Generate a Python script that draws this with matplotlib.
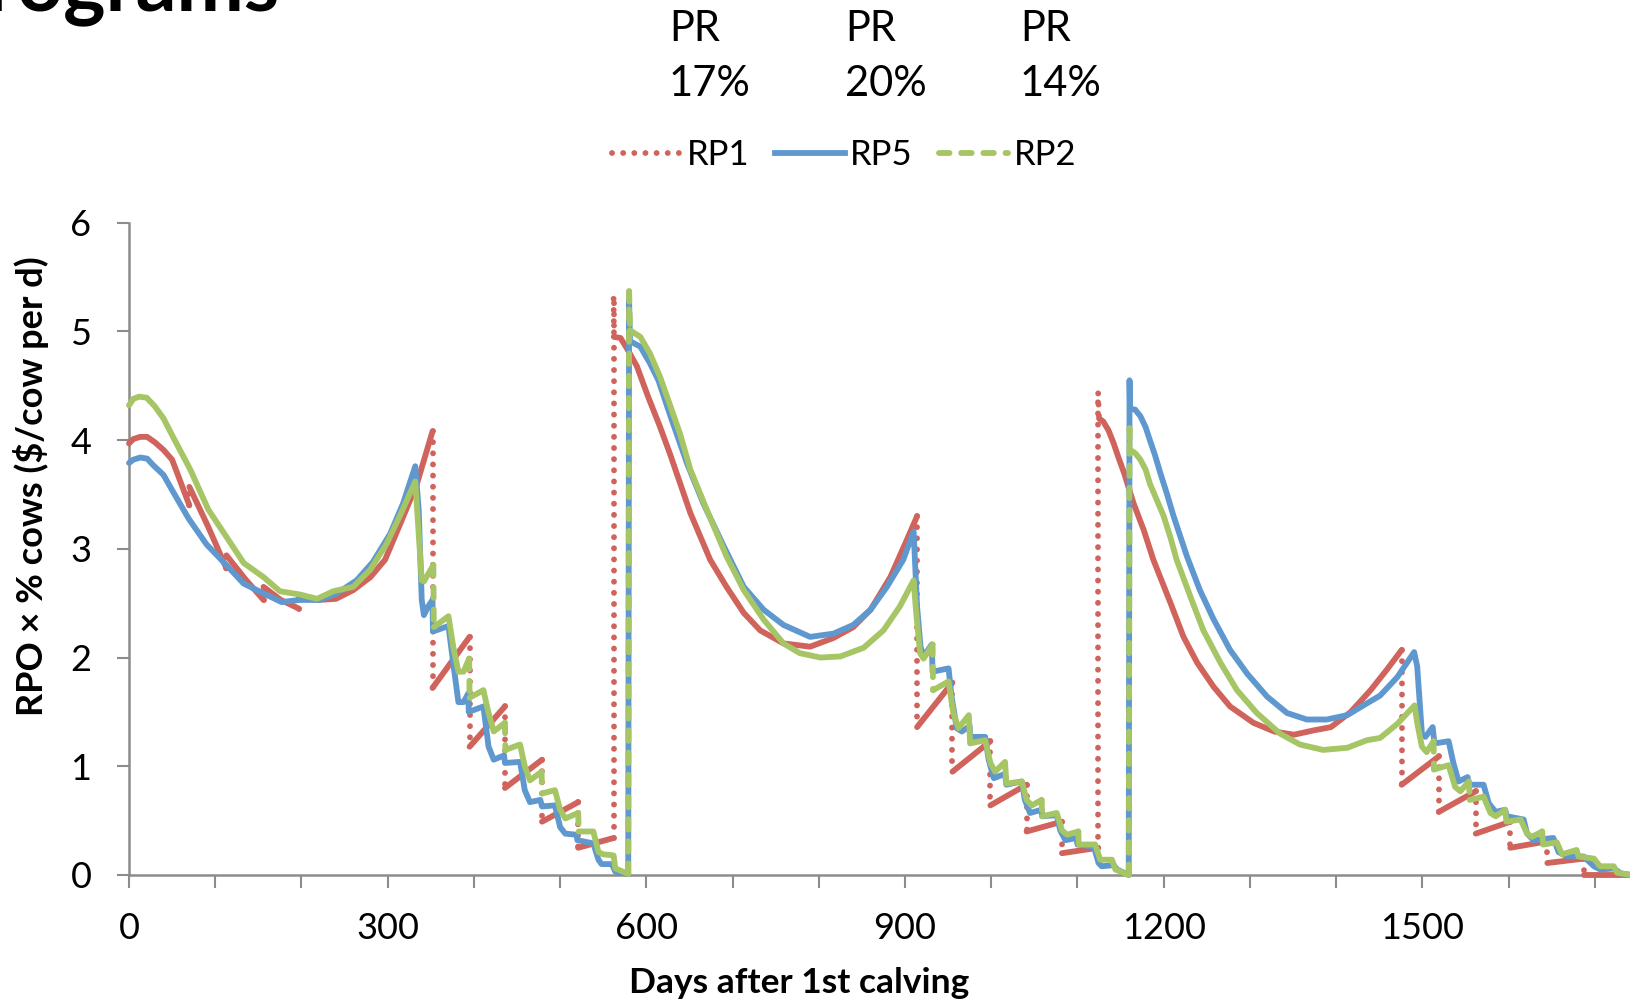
import numpy as np
import matplotlib
matplotlib.use('Agg')
import matplotlib.pyplot as plt
from matplotlib.lines import Line2D

plt.rcParams['font.family'] = ['Lato', 'DejaVu Sans']

# RP1 (red, dotted)
rp1_days = [0, 5, 13, 21, 30, 40, 50, 70, 70, 92, 113, 113, 135, 156, 156, 176, 197, 197, 220,
            240, 260, 280, 297, 314, 334, 352, 352, 395, 395, 436, 436, 479, 479, 521, 521, 562,
            562, 562.5, 570, 577, 589, 602, 616, 628, 651, 674, 693, 713, 732, 759, 790, 817,
            840, 860, 883, 902, 914, 914, 955, 955, 999, 999, 1041, 1041, 1082, 1082, 1124, 1124,
            1125, 1130, 1136, 1142, 1148, 1154, 1165, 1177, 1188, 1196, 1208, 1223, 1239, 1258,
            1277, 1304, 1328, 1351, 1374, 1394, 1417, 1440, 1459, 1476, 1476, 1519, 1519, 1562,
            1562, 1602, 1602, 1645, 1645, 1687, 1687, 1742]
rp1_vals = [3.97, 4.01, 4.03, 4.03, 3.98, 3.91, 3.82, 3.40, 3.57, 3.20, 2.82, 2.94, 2.72, 2.53,
            2.65, 2.53, 2.45, 2.55, 2.53, 2.54, 2.62, 2.74, 2.90, 3.22, 3.60, 4.08, 1.72, 2.19,
            1.18, 1.55, 0.80, 1.06, 0.49, 0.67, 0.25, 0.34, 5.30, 4.95, 4.94, 4.85, 4.68, 4.40,
            4.12, 3.86, 3.33, 2.90, 2.65, 2.41, 2.25, 2.13, 2.10, 2.18, 2.28, 2.44, 2.74, 3.08,
            3.30, 1.36, 1.77, 0.95, 1.23, 0.64, 0.83, 0.40, 0.49, 0.20, 0.25, 4.43, 4.20, 4.17,
            4.09, 3.97, 3.83, 3.70, 3.42, 3.17, 2.90, 2.74, 2.50, 2.19, 1.95, 1.73, 1.55, 1.40,
            1.32, 1.29, 1.33, 1.36, 1.50, 1.70, 1.89, 2.07, 0.83, 1.09, 0.58, 0.77, 0.38, 0.49,
            0.25, 0.31, 0.11, 0.15, 0.0, 0.0]

# RP5 (blue, solid)
rp5_days = [0, 5, 13, 21, 28, 40, 50, 69, 90, 113, 133, 156, 177, 198, 221, 241, 264, 283, 303,
            318, 332, 336, 339.5, 342, 347, 352, 352.5, 370.5, 376, 382, 388, 393.5, 394, 411,
            417, 423, 435, 436, 453.5, 459, 465, 477, 479, 494, 500, 506, 519, 520, 538.5, 544.5,
            548, 560, 564, 579, 580, 581, 593, 604, 614, 628, 647, 666, 690, 713, 736, 759, 790,
            817, 840, 860, 879, 898, 910, 914, 918, 921.5, 931, 932, 950.5, 954, 960, 966, 975,
            975.5, 993, 997, 1003, 1016, 1017.5, 1035.5, 1039, 1045, 1058.5, 1059, 1076, 1080,
            1086, 1099, 1100, 1119, 1124.5, 1128, 1142, 1146, 1159.5, 1160.4, 1161, 1167, 1173,
            1179, 1184, 1190, 1196, 1204, 1211.5, 1227, 1242, 1258, 1277, 1297, 1320, 1343, 1366,
            1389, 1413, 1436, 1451, 1471, 1490.5, 1494, 1499.5, 1503.5, 1512, 1514, 1530.5, 1536,
            1542, 1552.5, 1554, 1571, 1577, 1585, 1596, 1598, 1617.5, 1621.5, 1629, 1652, 1658,
            1668, 1687, 1699, 1706.5, 1722, 1730, 1742]
rp5_vals = [3.79, 3.82, 3.84, 3.83, 3.77, 3.68, 3.54, 3.28, 3.04, 2.85, 2.68, 2.59, 2.51, 2.53,
            2.53, 2.59, 2.71, 2.88, 3.14, 3.42, 3.76, 3.36, 2.53, 2.39, 2.47, 2.53, 2.24, 2.29,
            1.95, 1.59, 1.59, 1.67, 1.50, 1.55, 1.18, 1.06, 1.10, 1.03, 1.04, 0.78, 0.67, 0.69,
            0.63, 0.64, 0.44, 0.38, 0.37, 0.32, 0.29, 0.14, 0.10, 0.10, 0.03, 0.01, 5.29, 4.91,
            4.86, 4.71, 4.55, 4.22, 3.79, 3.42, 3.02, 2.65, 2.44, 2.30, 2.19, 2.22, 2.30, 2.44,
            2.65, 2.90, 3.16, 2.47, 2.10, 2.01, 2.12, 1.87, 1.90, 1.64, 1.35, 1.32, 1.37, 1.27,
            1.27, 1.06, 0.89, 0.93, 0.83, 0.86, 0.69, 0.57, 0.60, 0.54, 0.55, 0.41, 0.32, 0.34,
            0.28, 0.26, 0.11, 0.08, 0.09, 0.05, 0.0, 4.55, 4.29, 4.28, 4.22, 4.12, 4.00, 3.86,
            3.70, 3.50, 3.30, 2.93, 2.62, 2.35, 2.07, 1.85, 1.64, 1.49, 1.43, 1.43, 1.47, 1.58,
            1.65, 1.82, 2.05, 1.92, 1.30, 1.27, 1.36, 1.21, 1.23, 1.03, 0.86, 0.90, 0.83, 0.83,
            0.66, 0.58, 0.60, 0.54, 0.51, 0.38, 0.32, 0.34, 0.21, 0.17, 0.17, 0.08, 0.05, 0.06,
            0.015, 0.0]

# RP2 (green, dashed)
rp2_days = [0, 5, 12, 20.5, 30, 40, 51, 71, 92, 113, 133, 156, 175, 198, 218, 237, 260, 280,
            299, 314, 332, 336.5, 339.5, 342, 353, 353.5, 370.5, 376, 382, 388, 394.5, 395, 411,
            417, 423, 436, 436.5, 453.5, 459, 465, 478.5, 479, 494, 500, 506, 521, 521.5, 538.5,
            544.5, 550, 562, 564, 579, 580, 581, 593, 604, 616, 628, 639, 651, 670, 693, 713, 736,
            759, 778, 802, 825, 852, 875, 894, 910, 913, 917.5, 921.5, 932, 932.5, 950.5, 956,
            962, 974, 975.5, 993, 999, 1004.5, 1016, 1017.5, 1035.5, 1041, 1047, 1058.5, 1059,
            1076, 1082, 1088, 1101, 1101.5, 1120.5, 1126.5, 1140, 1144, 1159.5, 1160.4, 1161,
            1167, 1173, 1179, 1184, 1192, 1200, 1208, 1215, 1231, 1246, 1266, 1285, 1308, 1335,
            1358, 1385, 1413, 1436, 1451, 1471, 1491, 1494, 1499.5, 1505, 1513, 1513.5, 1530.5,
            1538, 1544, 1554, 1555, 1571, 1579, 1585, 1596, 1597.5, 1614, 1621.5, 1627, 1639,
            1640, 1656, 1662, 1679, 1681, 1699, 1706, 1722, 1726, 1742]
rp2_vals = [4.32, 4.38, 4.40, 4.39, 4.31, 4.20, 4.03, 3.73, 3.36, 3.11, 2.87, 2.74, 2.61, 2.58,
            2.54, 2.61, 2.65, 2.81, 3.05, 3.30, 3.62, 3.08, 2.71, 2.70, 2.85, 2.28, 2.38, 2.10,
            1.87, 1.87, 1.99, 1.63, 1.70, 1.49, 1.32, 1.40, 1.15, 1.20, 1.00, 0.87, 0.95, 0.75,
            0.78, 0.60, 0.52, 0.57, 0.40, 0.40, 0.21, 0.19, 0.18, 0.06, 0.01, 5.37, 5.01, 4.95,
            4.80, 4.58, 4.31, 4.06, 3.73, 3.36, 2.93, 2.62, 2.35, 2.13, 2.04, 2.00, 2.01, 2.09,
            2.25, 2.47, 2.71, 2.41, 2.04, 1.99, 2.12, 1.70, 1.78, 1.49, 1.35, 1.47, 1.21, 1.24,
            1.03, 0.95, 1.04, 0.84, 0.86, 0.69, 0.64, 0.69, 0.54, 0.57, 0.41, 0.37, 0.40, 0.28,
            0.28, 0.14, 0.14, 0.05, 0.0, 4.11, 3.91, 3.88, 3.82, 3.73, 3.60, 3.45, 3.30, 3.10,
            2.90, 2.56, 2.25, 1.95, 1.70, 1.49, 1.30, 1.20, 1.15, 1.17, 1.24, 1.26, 1.39, 1.56,
            1.40, 1.18, 1.13, 1.23, 0.97, 1.01, 0.81, 0.77, 0.86, 0.69, 0.72, 0.57, 0.54, 0.60,
            0.49, 0.51, 0.38, 0.35, 0.40, 0.28, 0.30, 0.19, 0.23, 0.17, 0.15, 0.08, 0.08, 0.02,
            0.0]

series_labels = ['RP1', 'RP5', 'RP2']
pr_labels = ['17%', '20%', '14%']
x_ticks = list(range(0, 1800, 100))
y_ticks = [0, 1, 2, 3, 4, 5, 6]

RED = '#D0635C'
BLUE = '#5F98CF'
GREEN = '#A6C565'
GREY = '#8C8C8C'
LW = 4.2
DOT = (0, (0.01, 1.9))
DASH = (0, (1.8, 2.0))


def draw_series(ax, days, vals, color, jump_style, z):
    # sloped parts solid, the near-vertical jumps in the series' dash style
    d = np.asarray(days, dtype=float)
    v = np.asarray(vals, dtype=float)
    cur = [0]
    for i in range(1, len(d)):
        if d[i] - d[i - 1] <= 1.0 and abs(v[i] - v[i - 1]) > 0.05:
            if len(cur) > 1:
                ax.plot(d[cur], v[cur], color=color, lw=LW, solid_capstyle='round',
                        solid_joinstyle='round', zorder=z, clip_on=False)
            ax.plot(d[i - 1:i + 1], v[i - 1:i + 1], color=color, lw=LW, linestyle=jump_style,
                    dash_capstyle='round', zorder=z, clip_on=False)
            cur = [i]
        else:
            cur.append(i)
    if len(cur) > 1:
        ax.plot(d[cur], v[cur], color=color, lw=LW, solid_capstyle='round',
                solid_joinstyle='round', zorder=z, clip_on=False)


fig = plt.figure(figsize=(16.31, 10.05), dpi=100)
ax = fig.add_axes([0.0791, 0.1294, 0.9209, 0.649])

draw_series(ax, rp1_days, rp1_vals, RED, DOT, 3)
ax.plot(rp5_days, rp5_vals, color=BLUE, lw=LW, solid_joinstyle='round',
        solid_capstyle='round', zorder=4, clip_on=False)
draw_series(ax, rp2_days, rp2_vals, GREEN, DASH, 5)

ax.set_xlim(0, 1742)
ax.set_ylim(0, 6)
ax.set_xticks(x_ticks)
ax.set_xticklabels([str(t) if t % 300 == 0 else '' for t in x_ticks])
ax.set_yticks(y_ticks)
ax.tick_params(axis='x', direction='out', length=9, width=1.5, color=GREY, pad=18, labelsize=26)
ax.tick_params(axis='y', direction='out', length=9, width=1.5, color=GREY, pad=18, labelsize=26)
for s in ['top', 'right']:
    ax.spines[s].set_visible(False)
for s in ['left', 'bottom']:
    ax.spines[s].set_color(GREY)
    ax.spines[s].set_linewidth(1.8)

fig.text(0.490, 0.0219, 'Days after 1st calving', ha='center', va='center',
         fontsize=25.5, fontweight='bold')
fig.text(0.019, 0.5164, 'RPO × % cows ($/cow per d)', ha='center', va='center',
         rotation=90, fontsize=26, fontweight='bold')

# PR annotations above legend
for xp, lab in zip([669, 845, 1020], pr_labels):
    fig.text(xp / 1631, 1 - 29 / 1005, 'PR', ha='left', va='center', fontsize=30)
    fig.text(xp / 1631, 1 - 84 / 1005, lab, ha='left', va='center', fontsize=30)

# slide title, cut off at the top like in the slide
fig.text(280 / 1631, 1 - 10 / 1005, 'Programs', ha='right', va='baseline',
         fontsize=58, fontweight='bold')

handles = [Line2D([], [], color=RED, lw=LW, linestyle=DOT, dash_capstyle='round'),
           Line2D([], [], color=BLUE, lw=LW),
           Line2D([], [], color=GREEN, lw=LW, linestyle=DASH, dash_capstyle='round')]
fig.legend(handles, series_labels, ncol=3, loc='center', bbox_to_anchor=(0.5175, 0.8458),
           frameon=False, fontsize=25, handlelength=2.0, handletextpad=0.15,
           columnspacing=0.75, borderpad=0)

fig.savefig('out.png', dpi=100)
